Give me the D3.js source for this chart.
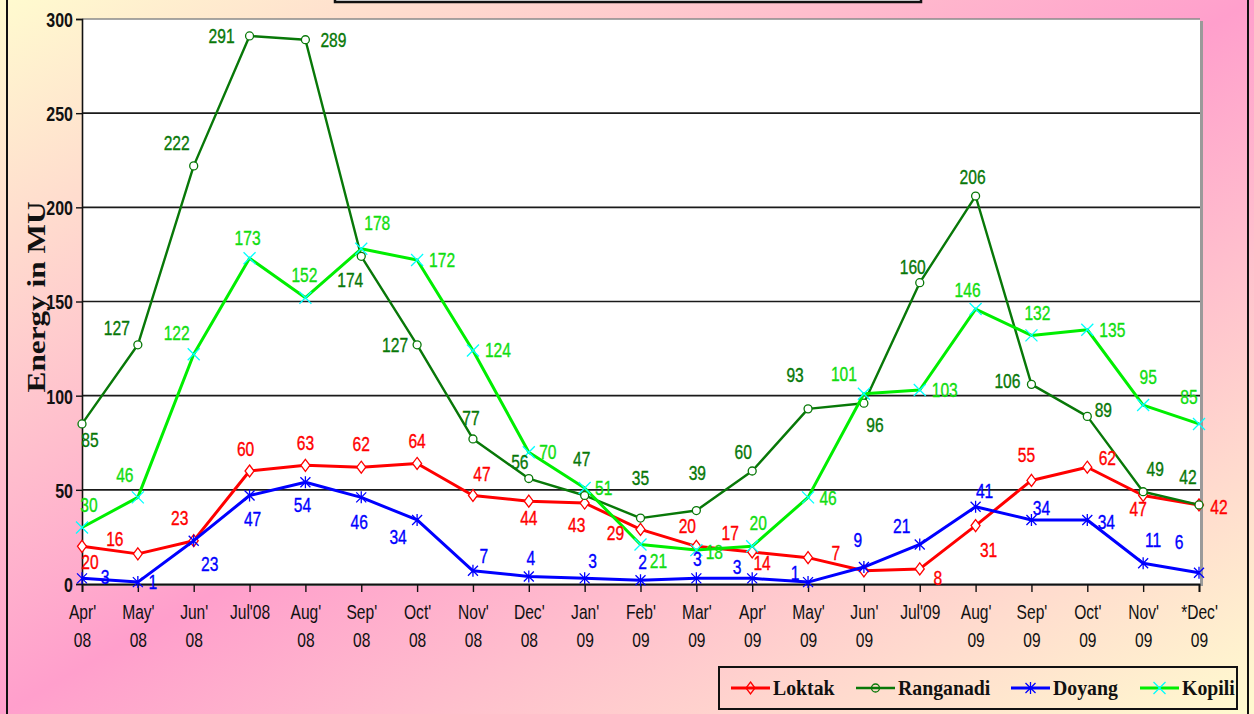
<!DOCTYPE html>
<html><head><meta charset="utf-8">
<script src="https://cdn.jsdelivr.net/npm/d3@7"></script>
<style>body{margin:0;overflow:hidden;background:#fff}</style>
</head><body>
<svg id="c" width="1254" height="714"></svg>
<script>
// ---------- data ----------
const categories = ["Apr'\n08","May'\n08","Jun'\n08","Jul'08","Aug'\n08","Sep'\n08","Oct'\n08","Nov'\n08","Dec'\n08","Jan'\n09","Feb'\n09","Mar'\n09","Apr'\n09","May'\n09","Jun'\n09","Jul'09","Aug'\n09","Sep'\n09","Oct'\n09","Nov'\n09","*Dec'\n09"];
const loktak    = [20,16,23,60,63,62,64,47,44,43,29,20,17,14,7,8,31,55,62,47,42];
const ranganadi = [85,127,222,291,289,174,127,77,56,47,35,39,60,93,96,160,206,106,89,49,42];
const doyang    = [3,1,23,47,54,46,34,7,4,3,2,3,3,1,9,21,41,34,34,11,6];
const kopili    = [30,46,122,173,152,178,172,124,70,51,21,18,20,46,101,103,146,132,135,95,85];
const seriesNames = ["Loktak","Ranganadi","Doyang","Kopili"];
const yTicks = [0,50,100,150,200,250,300];
const yTitle = "Energy in MU";

// label nudges (layout only)
const loktakNudge = [[8,16],[-23,-15],[-14,-23],[-4,-22],[0,-22],[0,-23],[0,-22],[9,-22],[0,17],[-8,22],[-25,4],[-9,-20],[-22,-19],[-46,5],[-28,-18],[18,9],[13,24],[-5,-25],[20,-9],[-5,13],[20,2]];
const ranganadiNudge = [[8,16],[-21,-17],[-17,-23],[-28,0],[28,0],[-11,24],[-22,0],[-2,-21],[-9,-17],[-3,-37],[0,-40],[1,-38],[-9,-19],[-13,-34],[11,22],[-7,-16],[-3,-19],[-24,-3],[16,-6],[12,-23],[-11,-28]];
const doyangNudge = [[23,-1],[15,0],[16,23],[3,23],[-3,23],[-2,25],[-19,17],[11,-15],[2,-18],[8,-17],[2,-18],[1,-19],[-15,-11],[-13,-9],[-6,-27],[-18,-18],[9,-16],[10,-12],[19,2],[10,-23],[-20,-31]];
const kopiliNudge = [[7,-23],[-13,-22],[-17,-21],[-2,-20],[-1,-23],[16,-26],[25,0],[25,0],[19,0],[19,0],[18,17],[18,2],[6,-23],[20,1],[-20,-20],[25,0],[-8,-19],[6,-22],[25,0],[5,-28],[-10,-27]];

// ---------- setup ----------
const svg = d3.select("#c");
const W = 1254, H = 714;
const plot = {l:82, r:1199, t:19, b:584};
const x = d3.scalePoint().domain(d3.range(categories.length)).range([plot.l, plot.r]);
const y = d3.scaleLinear().domain([0,300]).range([plot.b, plot.t]);

const defs = svg.append("defs");
const bg = defs.append("linearGradient").attr("id","bg").attr("x1",0).attr("y1",0).attr("x2",1).attr("y2",1);
bg.append("stop").attr("offset",0).attr("stop-color","#fffbcf");
bg.append("stop").attr("offset",0.5).attr("stop-color","#ff9fcc");
bg.append("stop").attr("offset",1).attr("stop-color","#fffbcf");

svg.append("rect").attr("width",W).attr("height",H).attr("fill","url(#bg)");
svg.append("rect").attr("x",7).attr("y",-20).attr("width",1241).attr("height",H+40)
  .attr("fill","none").attr("stroke","#111").attr("stroke-width",2);
// title box (cut off at top)
svg.append("rect").attr("x",335).attr("y",-40).attr("width",586).attr("height",42)
  .attr("fill","#ffffff").attr("stroke","#111").attr("stroke-width",2.5);

// plot area
svg.append("rect").attr("x",plot.l+2).attr("y",plot.t+2).attr("width",plot.r-plot.l+2).attr("height",plot.b-plot.t)
  .attr("fill","#9a9a9a");
svg.append("rect").attr("x",plot.l).attr("y",plot.t).attr("width",plot.r-plot.l+1).attr("height",plot.b-plot.t)
  .attr("fill","#ffffff");

// gridlines
svg.append("g").selectAll("line").data(yTicks.filter(d=>d>0)).join("line")
  .attr("x1",plot.l).attr("x2",plot.r+1)
  .attr("y1",d=>y(d)).attr("y2",d=>y(d))
  .attr("stroke",d=>d===300?"#8a8a8a":"#1a1a1a").attr("stroke-width",1.6);

// axes
const yAxis = svg.append("g").attr("transform",`translate(${plot.l},0)`)
  .call(d3.axisLeft(y).tickValues(yTicks).tickSize(6).tickFormat(d3.format("d")));
yAxis.select(".domain").attr("stroke","#111").attr("stroke-width",1.6);
yAxis.selectAll(".tick line").attr("stroke","#111").attr("stroke-width",1.4);
yAxis.selectAll(".tick text")
  .attr("x",-9/0.78).attr("dy","0.36em")
  .attr("transform","scale(0.78,1)")
  .attr("font-family","'Liberation Sans', Arial, sans-serif")
  .attr("font-weight","bold").attr("font-size",20.5).attr("fill","#111");

const xAxis = svg.append("g").attr("transform",`translate(0,${plot.b})`)
  .call(d3.axisBottom(x).tickSize(8).tickFormat(""));
xAxis.select(".domain").attr("stroke","#111").attr("stroke-width",1.8);
xAxis.selectAll(".tick line").attr("stroke","#111").attr("stroke-width",1.4);
xAxis.selectAll(".tick").each(function(d){
  const lines = categories[d].split("\n");
  const t = d3.select(this).select("text")
    .attr("y",null).attr("dy",null)
    .attr("transform","scale(0.8,1)")
    .attr("font-family","'Liberation Sans', Arial, sans-serif")
    .attr("font-size",19.5).attr("fill","#111").attr("text-anchor","middle");
  t.text(null);
  lines.forEach((s,i)=>t.append("tspan").attr("x",0).attr("y",35+i*28).text(s));
});

// y title
svg.append("text")
  .attr("transform","translate(45,297) rotate(-90) scale(1.25,1)")
  .attr("text-anchor","middle")
  .attr("font-family","'Liberation Serif', 'Times New Roman', serif")
  .attr("font-weight","bold").attr("font-size",25).attr("fill","#111")
  .text(yTitle);

// ---------- series ----------
function markerPath(type){
  if(type==="diamond") return "M0,-6L4.5,0L0,6L-4.5,0Z";
  if(type==="circle") return d3.symbol(d3.symbolCircle, 50)();
  if(type==="star") return "M-5,-5L5,5M-5,5L5,-5M0,-6L0,6";
  if(type==="x") return "M-6,-6L6,6M-6,6L6,-6";
}
const series = [
  {name:seriesNames[0], values:loktak, nudge:loktakNudge, line:"#ff0000", lw:3, marker:"diamond", mc:"#ff0000", mf:"#ffffff", lc:"#ff0000"},
  {name:seriesNames[1], values:ranganadi, nudge:ranganadiNudge, line:"#087808", lw:2.4, marker:"circle", mc:"#087808", mf:"#ffffff", lc:"#087808"},
  {name:seriesNames[2], values:doyang, nudge:doyangNudge, line:"#0000ff", lw:3, marker:"star", mc:"#0000ff", mf:"none", lc:"#0000ff"},
  {name:seriesNames[3], values:kopili, nudge:kopiliNudge, line:"#00ee00", lw:3, marker:"x", mc:"#00ffff", mf:"none", lc:"#11dd11"}
];
const line = d3.line().x((d,i)=>x(i)).y(d=>y(d));
series.forEach(s=>{
  const g = svg.append("g");
  g.append("path").datum(s.values).attr("d",line)
    .attr("fill","none").attr("stroke",s.line).attr("stroke-width",s.lw).attr("stroke-linejoin","round");
  g.selectAll("path.m").data(s.values).join("path").attr("class","m")
    .attr("transform",(d,i)=>`translate(${x(i)},${y(d)})`)
    .attr("d",markerPath(s.marker))
    .attr("fill",s.mf).attr("stroke",s.mc).attr("stroke-width",1.3);
});
// data labels
series.forEach(s=>{
  svg.append("g").selectAll("text").data(s.values).join("text")
    .attr("transform",(d,i)=>`translate(${x(i)+s.nudge[i][0]},${y(d)+s.nudge[i][1]}) scale(0.8,1)`)
    .attr("text-anchor","middle").attr("dy","0.36em")
    .attr("font-family","'Liberation Sans', Arial, sans-serif")
    .attr("font-size",19.5).attr("fill",s.lc)
    .attr("stroke",s.lc).attr("stroke-width",0.35)
    .text(d=>d);
});

// ---------- legend ----------
const lg = svg.append("g");
lg.append("rect").attr("x",719).attr("y",667).attr("width",518).attr("height",42)
  .attr("fill","none").attr("stroke","#111").attr("stroke-width",2);
const legX = [731, 856, 1011, 1140];
series.forEach((s,i)=>{
  const gx = legX[i], gy = 688;
  lg.append("line").attr("x1",gx).attr("x2",gx+39).attr("y1",gy).attr("y2",gy)
    .attr("stroke",s.line).attr("stroke-width",s.lw);
  lg.append("path").attr("transform",`translate(${gx+19.5},${gy})`).attr("d",markerPath(s.marker))
    .attr("fill",s.mf==="#ffffff"?"none":s.mf).attr("stroke",s.mc).attr("stroke-width",1.3);
  lg.append("text").attr("transform",`translate(${gx+42},${gy}) scale(0.9,1)`)
    .attr("dy","0.34em")
    .attr("font-family","'Liberation Serif', 'Times New Roman', serif")
    .attr("font-weight","bold").attr("font-size",22).attr("fill","#111")
    .text(s.name);
});
</script>
</body></html>
